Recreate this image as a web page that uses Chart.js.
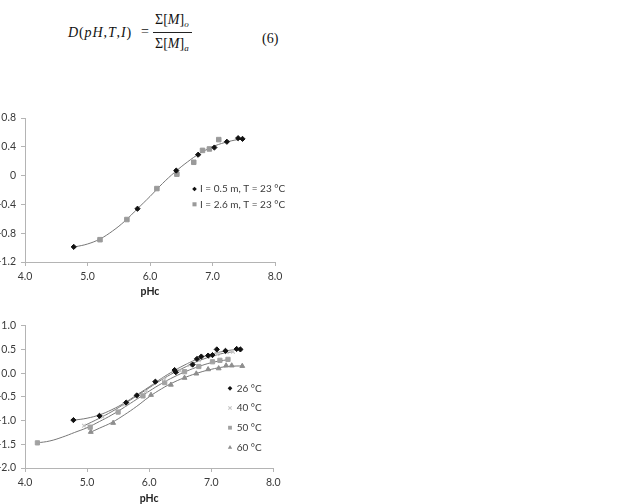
<!DOCTYPE html>
<html><head><meta charset="utf-8">
<script src="https://cdn.jsdelivr.net/npm/chart.js@4"></script>
<style>
html,body{margin:0;padding:0;width:625px;height:504px;overflow:hidden;background:#fff;}
#w1{position:absolute;left:-40px;top:100px;width:340px;height:202px;}
#w2{position:absolute;left:-40px;top:300px;width:340px;height:209px;}
.eq{position:absolute;font-family:"Liberation Serif","Times New Roman",serif;font-size:14px;line-height:14px;color:#111;white-space:nowrap;}
.eq sub{font-size:9px;vertical-align:-3px;line-height:0;}
</style></head><body>
<div class="eq" style="left:68px;top:26px;letter-spacing:0.9px;"><i>D</i>(<i>pH</i>,<i>T</i>,<i>I</i>)</div>
<div class="eq" style="left:141px;top:25px;">=</div>
<div class="eq" style="left:155px;top:13px;">&Sigma;[<i>M</i>]<sub><i>o</i></sub></div>
<div style="position:absolute;left:153px;top:32px;width:39px;border-top:1px solid #222;"></div>
<div class="eq" style="left:155px;top:37px;">&Sigma;[<i>M</i>]<sub><i>a</i></sub></div>
<div class="eq" style="left:262px;top:32px;">(6)</div>
<div id="w1"><canvas id="c1"></canvas></div>
<div id="w2"><canvas id="c2"></canvas></div>
<script>
// ---------- Top chart data ----------
const TOP_X_05 = [4.78, 5.80, 6.42, 6.77, 7.03, 7.23, 7.41, 7.48];
const TOP_Y_05 = [-0.99, -0.46, 0.07, 0.29, 0.39, 0.47, 0.52, 0.51];
const TOP_X_26 = [5.20, 5.63, 6.11, 6.43, 6.70, 6.84, 6.95, 7.10];
const TOP_Y_26 = [-0.89, -0.61, -0.18, 0.02, 0.185, 0.35, 0.37, 0.50];
const TOP_FIT_X = [4.8, 5.0, 5.2, 5.4, 5.6, 5.8, 6.0, 6.2, 6.4, 6.6, 6.8, 7.0, 7.2, 7.4, 7.5];
const TOP_FIT_Y = [-0.99, -0.95, -0.88, -0.77, -0.63, -0.46, -0.29, -0.11, 0.05, 0.19, 0.31, 0.40, 0.46, 0.50, 0.51];
const TOP_LABELS = ['I = 0.5 m, T = 23 °C', 'I = 2.6 m, T = 23 °C'];

// ---------- Bottom chart data ----------
const B_LABELS = ['26 °C', '40 °C', '50 °C', '60 °C'];
const T26_X = [4.78, 5.20, 5.63, 5.80, 6.10, 6.41, 6.43, 6.70, 6.77, 6.84, 6.95, 7.02, 7.09, 7.23, 7.41, 7.47];
const T26_Y = [-0.99, -0.90, -0.62, -0.47, -0.18, 0.065, 0.02, 0.18, 0.30, 0.35, 0.37, 0.38, 0.50, 0.47, 0.51, 0.50];
const T40_X = [4.95, 5.25, 5.60, 5.95, 6.25, 6.50, 6.65, 6.80, 6.95, 7.10, 7.25, 7.35];
const T40_Y = [-1.11, -0.92, -0.66, -0.38, -0.13, 0.05, 0.17, 0.27, 0.35, 0.40, 0.44, 0.45];
const T50_X = [4.20, 5.05, 5.50, 5.90, 6.25, 6.57, 6.80, 7.02, 7.14, 7.27];
const T50_Y = [-1.47, -1.14, -0.82, -0.48, -0.20, 0.03, 0.14, 0.24, 0.27, 0.29];
const T60_X = [5.06, 5.42, 6.03, 6.35, 6.57, 6.76, 6.95, 7.12, 7.24, 7.33, 7.50];
const T60_Y = [-1.24, -1.05, -0.46, -0.245, -0.10, -0.01, 0.08, 0.10, 0.16, 0.16, 0.15];

const F26_X = [4.8, 5.0, 5.2, 5.4, 5.6, 5.8, 6.0, 6.2, 6.4, 6.6, 6.8, 7.0, 7.2, 7.4, 7.5];
const F26_Y = [-0.99, -0.95, -0.88, -0.77, -0.63, -0.46, -0.29, -0.11, 0.05, 0.19, 0.31, 0.40, 0.46, 0.50, 0.51];
const F40_X = [4.95, 5.2, 5.4, 5.6, 5.8, 6.0, 6.2, 6.4, 6.6, 6.8, 7.0, 7.2, 7.35];
const F40_Y = [-1.11, -0.95, -0.81, -0.65, -0.48, -0.31, -0.14, 0.01, 0.14, 0.26, 0.35, 0.42, 0.45];
const F50_X = [4.2, 4.4, 4.6, 4.8, 5.0, 5.2, 5.4, 5.6, 5.8, 6.0, 6.2, 6.4, 6.6, 6.8, 7.0, 7.2, 7.3];
const F50_Y = [-1.47, -1.43, -1.35, -1.25, -1.15, -1.02, -0.88, -0.72, -0.55, -0.38, -0.22, -0.08, 0.04, 0.14, 0.22, 0.27, 0.29];
const F60_X = [5.05, 5.2, 5.4, 5.6, 5.8, 6.0, 6.2, 6.4, 6.6, 6.8, 7.0, 7.2, 7.4, 7.5];
const F60_Y = [-1.25, -1.16, -1.04, -0.88, -0.70, -0.50, -0.33, -0.19, -0.08, 0.01, 0.08, 0.13, 0.15, 0.15];

const X_TICKS = [4.0, 5.0, 6.0, 7.0, 8.0];

const FONT = 'Lato, "Liberation Sans", sans-serif';
const FS = 10.5;
const LFS = 10;
const TXT = '#3a3a3a';
const AX = '#b4b4b4';
const CURVE = '#777777';

const pts = (xs, ys) => xs.map((x, i) => ({x: x, y: ys[i]}));

function markerDS(label, xs, ys, style, color, r, bw) {
  return {label: label, data: pts(xs, ys), showLine: false, pointStyle: style,
    pointRadius: r, pointHoverRadius: r, backgroundColor: color, borderColor: color,
    pointBorderWidth: bw, legend: true};
}
function curveDS(xs, ys) {
  return {label: '', data: pts(xs, ys), showLine: true, pointRadius: 0, pointHoverRadius: 0,
    borderColor: CURVE, borderWidth: 1, tension: 0.4, fill: false};
}

function drawMarker(ctx, style, x, y, r, color, bw) {
  ctx.save();
  ctx.fillStyle = color; ctx.strokeStyle = color; ctx.lineWidth = bw;
  ctx.beginPath();
  if (style === 'rectRot') {
    ctx.moveTo(x, y - r); ctx.lineTo(x + r, y); ctx.lineTo(x, y + r); ctx.lineTo(x - r, y); ctx.closePath(); ctx.fill();
  } else if (style === 'rect') {
    const s = r * Math.SQRT1_2; ctx.rect(x - s, y - s, 2 * s, 2 * s); ctx.fill();
  } else if (style === 'triangle') {
    ctx.moveTo(x, y - r); ctx.lineTo(x + r * 0.87, y + r * 0.5); ctx.lineTo(x - r * 0.87, y + r * 0.5); ctx.closePath(); ctx.fill();
  } else if (style === 'crossRot') {
    const s = r * Math.SQRT1_2;
    ctx.moveTo(x - s, y - s); ctx.lineTo(x + s, y + s); ctx.moveTo(x + s, y - s); ctx.lineTo(x - s, y + s); ctx.stroke();
  }
  ctx.restore();
}

const legendPlugin = {
  id: 'sideLegend',
  afterDraw(chart, args, o) {
    const ctx = chart.ctx;
    const items = chart.data.datasets.filter(d => d.legend);
    ctx.save();
    ctx.font = LFS + 'px ' + FONT;
    ctx.fillStyle = TXT;
    ctx.textBaseline = 'middle';
    ctx.textAlign = 'left';
    items.forEach((d, i) => {
      const y = o.y + i * o.dy;
      drawMarker(ctx, d.pointStyle, o.x, y, d.pointRadius * 0.9, d.backgroundColor, d.pointBorderWidth);
      ctx.fillStyle = TXT;
      ctx.fillText(d.label, o.x + o.gap, y);
    });
    ctx.restore();
  }
};

function makeScales(ymin, ymax, ystep, yfmt, xh) {
  return {
    x: {type: 'linear', min: 4, max: 8,
      afterBuildTicks: s => { s.ticks = X_TICKS.map(v => ({value: v})); },
      ticks: {color: TXT, font: {family: FONT, size: FS}, padding: 4, maxRotation: 0,
        callback: v => Number(v).toFixed(1)},
      grid: {drawOnChartArea: false, drawTicks: true, tickLength: 4, color: AX, lineWidth: 1},
      border: {display: true, color: AX, width: 1},
      title: {display: true, text: 'pHc', color: '#222', font: {family: FONT, size: FS, weight: 'bold'},
        padding: {top: 0, bottom: 4}},
      afterFit: s => { s.height = xh; }
    },
    y: {type: 'linear', min: ymin, max: ymax,
      ticks: {stepSize: ystep, color: TXT, font: {family: FONT, size: FS}, padding: 5, callback: yfmt},
      grid: {drawOnChartArea: false, drawTicks: true, tickLength: 4, color: AX, lineWidth: 1},
      border: {display: true, color: AX, width: 1},
      afterFit: s => { s.width = 65; }
    }
  };
}

const common = {
  responsive: true, maintainAspectRatio: false, animation: false,
  events: [],
};

new Chart(document.getElementById('c1'), {
  type: 'scatter',
  data: {datasets: [
    markerDS(TOP_LABELS[0], TOP_X_05, TOP_Y_05, 'rectRot', '#111111', 2.6, 1),
    markerDS(TOP_LABELS[1], TOP_X_26, TOP_Y_26, 'rect', '#9a9a9a', 3.2, 1),
    curveDS(TOP_FIT_X, TOP_FIT_Y)
  ]},
  options: Object.assign({}, common, {
    layout: {padding: {left: 0, top: 18, right: 25, bottom: 0}},
    scales: makeScales(-1.2, 0.8, 0.4, v => { const r = Math.round(v * 10) / 10; return r === 0 ? '0' : r.toFixed(1); }, 40),
    plugins: {legend: {display: false}, tooltip: {enabled: false},
      sideLegend: {x: 234.5, y: 89, dy: 15.3, gap: 5.5}}
  }),
  plugins: [legendPlugin]
});

new Chart(document.getElementById('c2'), {
  type: 'scatter',
  data: {datasets: [
    markerDS(B_LABELS[0], T26_X, T26_Y, 'rectRot', '#111111', 2.6, 1),
    markerDS(B_LABELS[1], T40_X, T40_Y, 'crossRot', '#c4c4c4', 2.6, 1.1),
    markerDS(B_LABELS[2], T50_X, T50_Y, 'rect', '#a2a2a2', 3.0, 1),
    markerDS(B_LABELS[3], T60_X, T60_Y, 'triangle', '#8e8e8e', 2.8, 1),
    curveDS(F26_X, F26_Y),
    curveDS(F40_X, F40_Y),
    curveDS(F50_X, F50_Y),
    curveDS(F60_X, F60_Y)
  ]},
  options: Object.assign({}, common, {
    layout: {padding: {left: 0, top: 25.7, right: 26.7, bottom: 0}},
    scales: makeScales(-2.0, 1.0, 0.5, v => (Math.round(v * 10) / 10).toFixed(1), 41),
    plugins: {legend: {display: false}, tooltip: {enabled: false},
      sideLegend: {x: 270, y: 88.3, dy: 19.7, gap: 6.7}}
  }),
  plugins: [legendPlugin]
});
</script>
</body></html>
